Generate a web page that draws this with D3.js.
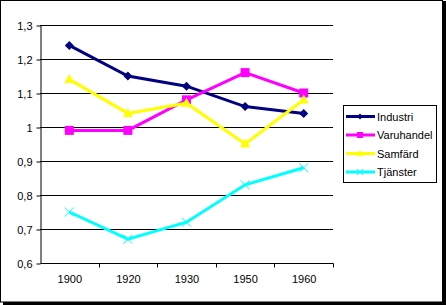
<!DOCTYPE html>
<html>
<head>
<meta charset="utf-8">
<script src="https://cdn.jsdelivr.net/npm/d3@7"></script>
<style>
  body { margin: 0; background: #fff; }
  svg { display: block; font-family: "Liberation Sans", Arial, sans-serif; }
</style>
</head>
<body>
<div id="chart"></div>
<script>
// Chart data
const years = ['1900', '1920', '1930', '1950', '1960'];
const industri = [1.24, 1.15, 1.12, 1.06, 1.04];
const varuhandel = [0.99, 0.99, 1.08, 1.16, 1.10];
const samfard = [1.14, 1.04, 1.07, 0.95, 1.08];
const tjanster = [0.75, 0.67, 0.72, 0.83, 0.88];
const yTicks = [0.6, 0.7, 0.8, 0.9, 1, 1.1, 1.2, 1.3];

const series = [
  { name: 'Industri', values: industri, color: '#000080', marker: 'diamond' },
  { name: 'Varuhandel', values: varuhandel, color: '#ff00ff', marker: 'square' },
  { name: 'Samfärd', values: samfard, color: '#ffff00', marker: 'triangle' },
  { name: 'Tjänster', values: tjanster, color: '#00ffff', marker: 'cross' }
];

const width = 446, height = 305;
const plot = { left: 40, right: 333, top: 25, bottom: 263 };

const svg = d3.select('#chart').append('svg')
  .attr('width', width)
  .attr('height', height);

// Outer frame with shadow
svg.append('rect').attr('x', 3).attr('y', 1).attr('width', 443).attr('height', 304).attr('fill', '#000');
svg.append('rect').attr('x', 0.5).attr('y', 0.5).attr('width', 442).attr('height', 301.5)
  .attr('fill', '#fff').attr('stroke', '#000');

const x = d3.scaleBand().domain(years).range([plot.left, plot.right]);
const y = d3.scaleLinear().domain([0.6, 1.3]).range([plot.bottom, plot.top]);

const fmt = (d) => String(d).replace('.', ',');

// Gridlines
svg.append('g')
  .selectAll('line')
  .data(yTicks.slice(1))
  .join('line')
  .attr('x1', plot.left).attr('x2', plot.right)
  .attr('y1', (d) => Math.round(y(d)) + 0.5).attr('y2', (d) => Math.round(y(d)) + 0.5)
  .attr('stroke', '#000');

// Y axis
const yAxis = svg.append('g')
  .attr('transform', 'translate(' + (plot.left + 0.5) + ',0.5)')
  .call(d3.axisLeft(y).tickValues(yTicks).tickFormat(fmt).tickSize(4).tickPadding(4).tickSizeOuter(0));
yAxis.selectAll('text').attr('font-size', 11).attr('fill', '#000').attr('font-family', 'Liberation Sans, Arial, sans-serif');
yAxis.selectAll('line, path').attr('stroke', '#000');

// X axis with ticks between categories
const xAxis = svg.append('g')
  .attr('transform', 'translate(0.5,' + (plot.bottom + 0.5) + ')');
xAxis.append('line').attr('x1', plot.left).attr('x2', plot.right).attr('stroke', '#000');
xAxis.selectAll('line.tick')
  .data(years.slice(1).concat(['end']))
  .join('line')
  .attr('class', 'tick')
  .attr('x1', (d, i) => Math.round(x(years[i]) + x.bandwidth()))
  .attr('x2', (d, i) => Math.round(x(years[i]) + x.bandwidth()))
  .attr('y1', 0).attr('y2', 4)
  .attr('stroke', '#000');
xAxis.selectAll('text')
  .data(years)
  .join('text')
  .attr('x', (d) => x(d) + x.bandwidth() / 2)
  .attr('y', 19)
  .attr('text-anchor', 'middle')
  .attr('font-size', 11)
  .text((d) => d);

// Marker drawing
function drawMarker(g, type, color, s) {
  if (type === 'diamond') {
    g.append('path').attr('d', `M0,${-s}L${s},0L0,${s}L${-s},0Z`).attr('fill', color);
  } else if (type === 'square') {
    g.append('rect').attr('x', -s).attr('y', -s).attr('width', 2 * s).attr('height', 2 * s).attr('fill', color);
  } else if (type === 'triangle') {
    g.append('path').attr('d', `M0,${-s * 1.2}L${s * 1.1},${s * 0.8}L${-s * 1.1},${s * 0.8}Z`).attr('fill', color);
  } else {
    g.append('path').attr('d', `M${-s},${-s}L${s},${s}M${s},${-s}L${-s},${s}`)
      .attr('stroke', color).attr('stroke-width', 1).attr('fill', 'none');
  }
}

const line = d3.line()
  .x((d, i) => x(years[i]) + x.bandwidth() / 2)
  .y((d) => y(d));

series.forEach((s) => {
  svg.append('path')
    .datum(s.values)
    .attr('d', line)
    .attr('fill', 'none')
    .attr('stroke', s.color)
    .attr('stroke-width', 3);
  s.values.forEach((v, i) => {
    const g = svg.append('g')
      .attr('transform', 'translate(' + (x(years[i]) + x.bandwidth() / 2) + ',' + y(v) + ')');
    drawMarker(g, s.marker, s.color, 4.5);
  });
});

// Legend
const legend = svg.append('g');
legend.append('rect')
  .attr('x', 343.5).attr('y', 105.5).attr('width', 93).attr('height', 77)
  .attr('fill', '#fff').attr('stroke', '#000');
series.forEach((s, i) => {
  const ly = 116.5 + i * 18.5;
  legend.append('line')
    .attr('x1', 346).attr('x2', 375).attr('y1', ly).attr('y2', ly)
    .attr('stroke', s.color).attr('stroke-width', 3);
  const g = legend.append('g').attr('transform', 'translate(360,' + ly + ')');
  drawMarker(g, s.marker, s.color, 3);
  legend.append('text')
    .attr('x', 377).attr('y', ly + 4)
    .attr('font-size', 11)
    .text(s.name);
});
</script>
</body>
</html>
